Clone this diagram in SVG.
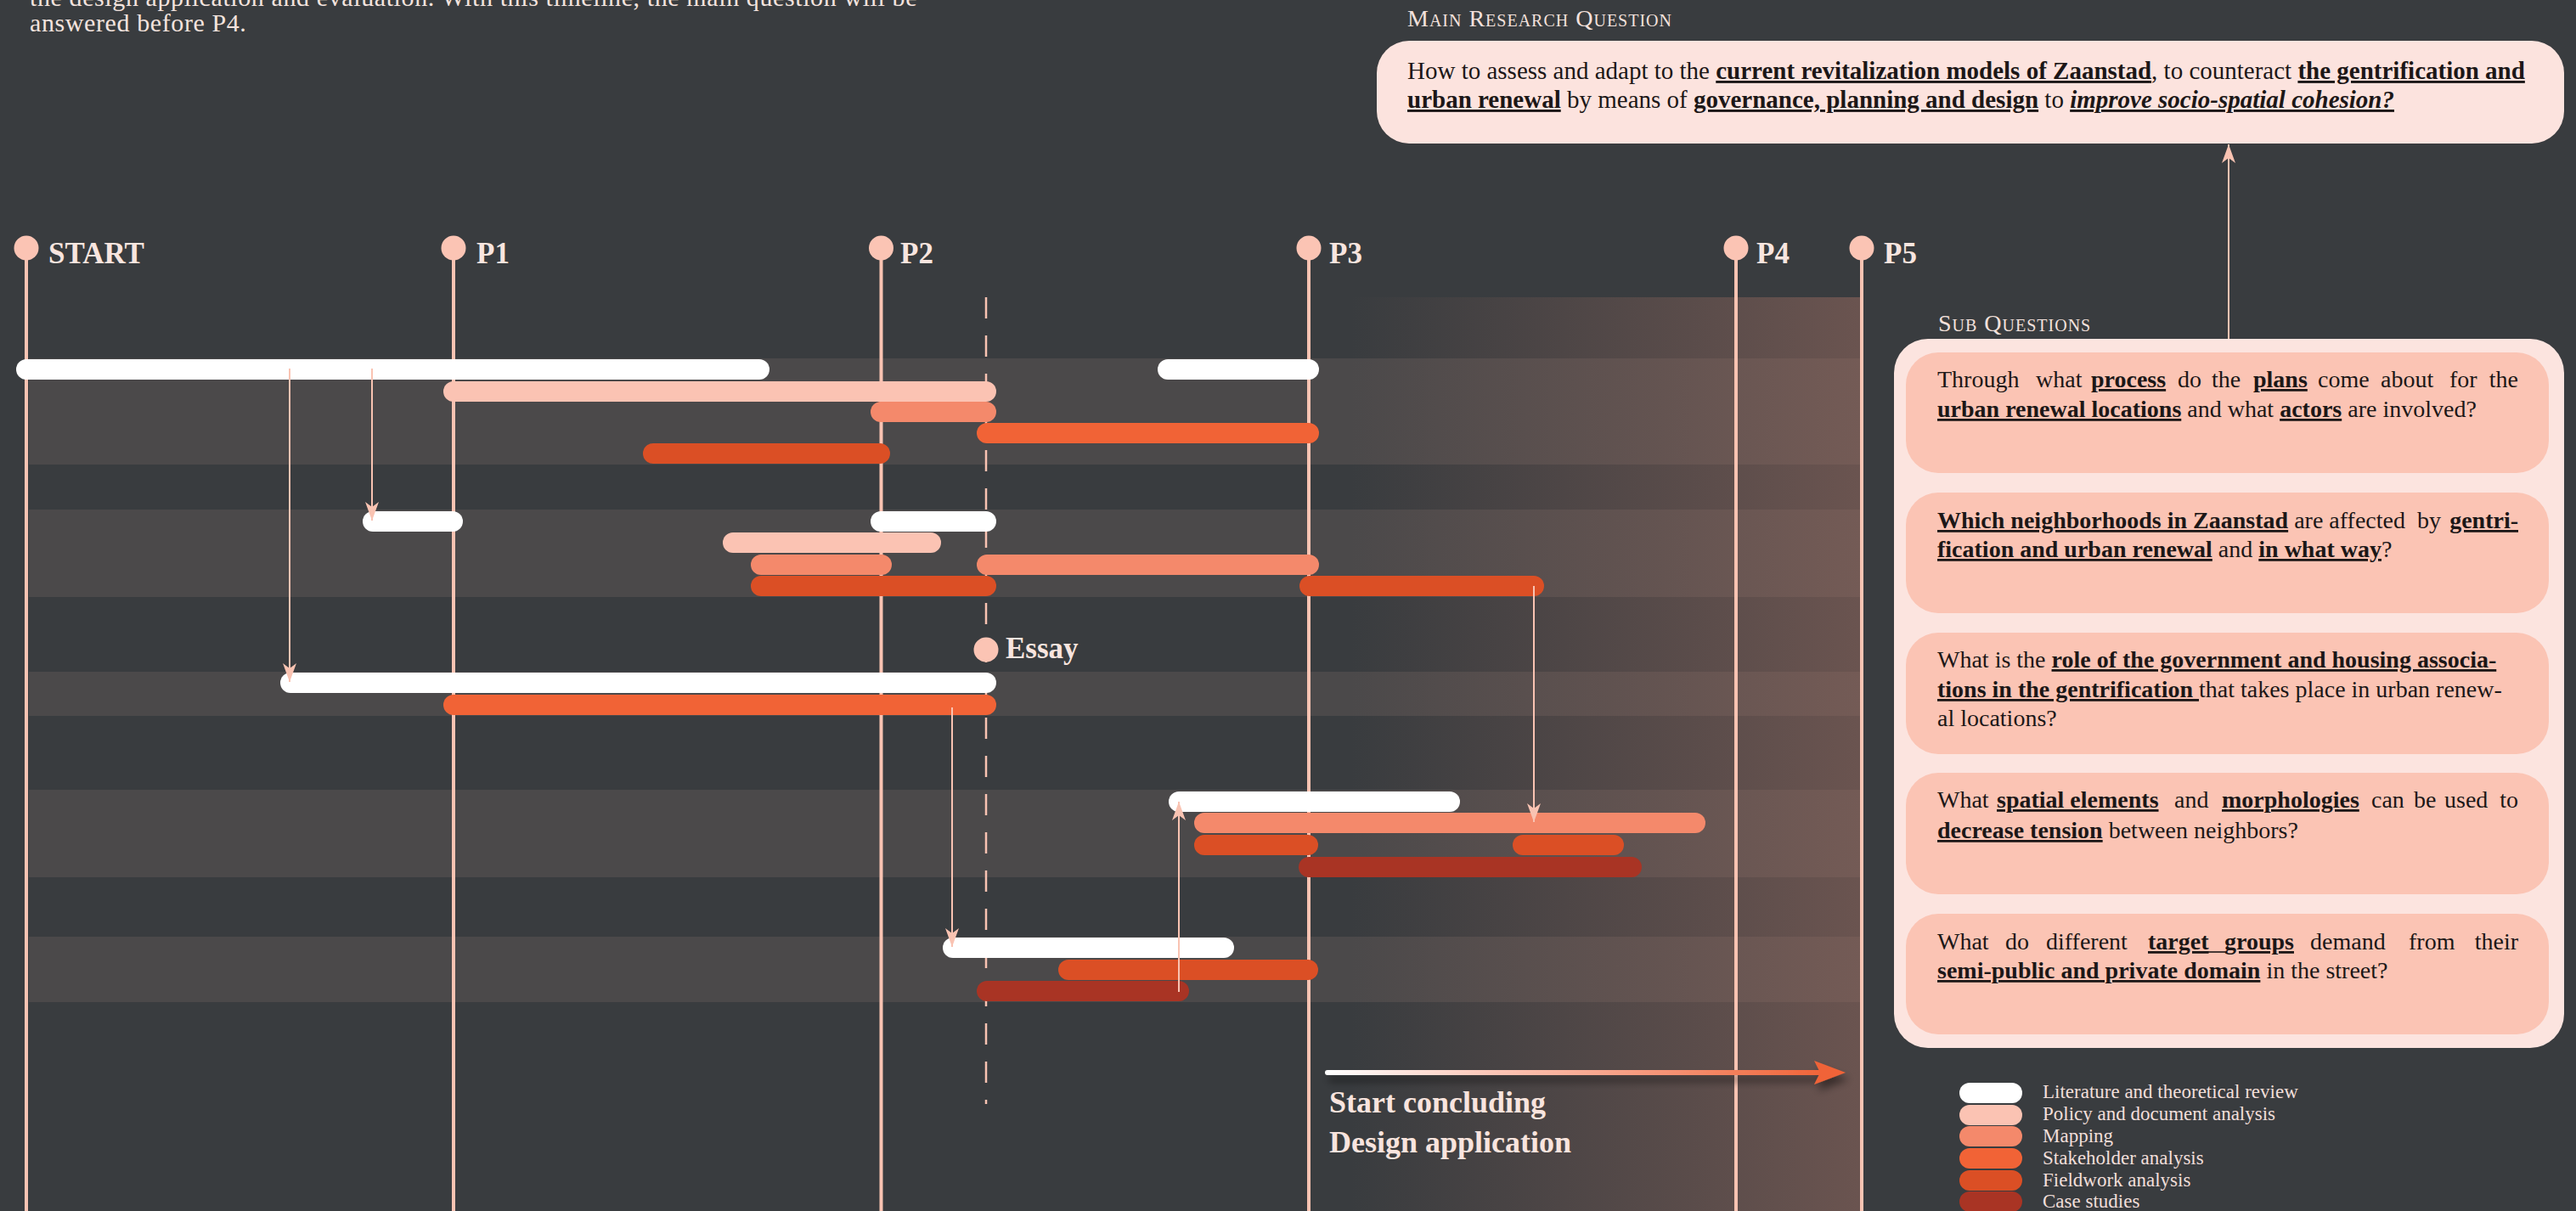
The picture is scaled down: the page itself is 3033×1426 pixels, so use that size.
<svg xmlns="http://www.w3.org/2000/svg" width="3033" height="1426" viewBox="0 0 3033 1426">
<style>
.t{font-family:"Liberation Serif","Times New Roman",serif}
.para{font-size:30px;fill:#f3e3de;letter-spacing:0.6px}
.band{fill:#4b494a}
.ms{stroke:#f9c3b2;stroke-width:4}
.dot{fill:#fbc4b4}
.lbl{font-size:35px;font-weight:bold;fill:#f8e5df}
.w{fill:#ffffff}.po{fill:#fbc3b3}.ma{fill:#f4896b}.st{fill:#f16336}.fw{fill:#db4f25}.cs{fill:#a93424}
.conn{stroke:#f9c3b2;stroke-width:2;fill:none;marker-end:url(#ah)}
.hd{font-size:28px;fill:#f3e1dc;font-variant:small-caps;letter-spacing:1px}
.q{font-size:28px;fill:#1c1717}
.mq{font-size:29px;fill:#1c1717}
.b{font-weight:bold;text-decoration:underline}
.i{font-style:italic}
.e{text-anchor:end}
.leg{font-size:23px;fill:#f1dfda}
.big{font-size:36px;font-weight:bold;fill:#f8e4de}
</style>
<defs>
<marker id="ah" markerUnits="userSpaceOnUse" markerWidth="24" markerHeight="18" refX="22" refY="8" orient="auto">
<path d="M0,0 L22,8 L0,16 L6,8 z" fill="#f9c3b2"/>
</marker>
<linearGradient id="fade" x1="0" y1="0" x2="1" y2="0">
<stop offset="0" stop-color="#a06e62" stop-opacity="0"/>
<stop offset="1" stop-color="#a06e62" stop-opacity="0.48"/>
</linearGradient>
<linearGradient id="concl" gradientUnits="userSpaceOnUse" x1="1563" y1="0" x2="2150" y2="0">
<stop offset="0" stop-color="#ffffff"/>
<stop offset="0.35" stop-color="#fbc3b3"/>
<stop offset="1" stop-color="#f06337"/>
</linearGradient>
<filter id="sh" filterUnits="userSpaceOnUse" x="1540" y="1230" width="680" height="80">
<feDropShadow dx="4" dy="8" stdDeviation="5" flood-color="#000" flood-opacity="0.45"/>
</filter>
</defs>

<rect width="3033" height="1426" fill="#393c3f"/>

<g id="intro" class="t para">
<text x="35" y="7">the design application and evaluation. With this timeline, the main question will be</text>
<text x="35" y="37">answered before P4.</text>
</g>

<g id="bands">
<rect class="band" x="34" y="422" width="2158" height="125"/>
<rect class="band" x="34" y="600" width="2158" height="103"/>
<rect class="band" x="34" y="791" width="2158" height="52"/>
<rect class="band" x="34" y="930" width="2158" height="103"/>
<rect class="band" x="34" y="1103" width="2158" height="77"/>
<rect x="1590" y="350" width="602" height="1076" fill="url(#fade)"/>
</g>

<g id="milestones">
<g id="ms-start"><line class="ms" x1="31" y1="292" x2="31" y2="1426"/><circle class="dot" cx="31" cy="292" r="14.5"/><text class="t lbl" x="57" y="310">START</text></g>
<g id="ms-p1"><line class="ms" x1="534" y1="292" x2="534" y2="1426"/><circle class="dot" cx="534" cy="292" r="14.5"/><text class="t lbl" x="561" y="310">P1</text></g>
<g id="ms-p2"><line class="ms" x1="1037.5" y1="292" x2="1037.5" y2="1426"/><circle class="dot" cx="1037.5" cy="292" r="14.5"/><text class="t lbl" x="1060" y="310">P2</text></g>
<g id="ms-p3"><line class="ms" x1="1541" y1="292" x2="1541" y2="1426"/><circle class="dot" cx="1541" cy="292" r="14.5"/><text class="t lbl" x="1565" y="310">P3</text></g>
<g id="ms-p4"><line class="ms" x1="2044" y1="292" x2="2044" y2="1426"/><circle class="dot" cx="2044" cy="292" r="14.5"/><text class="t lbl" x="2068" y="310">P4</text></g>
<g id="ms-p5"><line class="ms" x1="2192" y1="292" x2="2192" y2="1426"/><circle class="dot" cx="2192" cy="292" r="14.5"/><text class="t lbl" x="2218" y="310">P5</text></g>
<g id="ms-essay"><line x1="1161" y1="350" x2="1161" y2="1300" stroke="#f9c3b2" stroke-width="2.5" stroke-dasharray="25 20"/><circle class="dot" cx="1161" cy="765" r="14.5"/><text class="t lbl" x="1184" y="775">Essay</text></g>
</g>

<g id="bars">
<g id="sq1-bars">
<rect class="w" x="19" y="423" width="887" height="24" rx="12"/>
<rect class="w" x="1363" y="423" width="190" height="24" rx="12"/>
<rect class="po" x="522" y="449" width="651" height="24" rx="12"/>
<rect class="ma" x="1025" y="473" width="148" height="24" rx="12"/>
<rect class="st" x="1150" y="498" width="403" height="24" rx="12"/>
<rect class="fw" x="757" y="522" width="291" height="24" rx="12"/>
</g>
<g id="sq2-bars">
<rect class="w" x="427" y="602" width="118" height="24" rx="12"/>
<rect class="w" x="1025" y="602" width="148" height="24" rx="12"/>
<rect class="po" x="851" y="627" width="257" height="24" rx="12"/>
<rect class="ma" x="884" y="653" width="166" height="24" rx="12"/>
<rect class="ma" x="1150" y="653" width="403" height="24" rx="12"/>
<rect class="fw" x="884" y="678" width="289" height="24" rx="12"/>
<rect class="fw" x="1530" y="678" width="288" height="24" rx="12"/>
</g>
<g id="sq3-bars">
<rect class="w" x="330" y="792" width="843" height="24" rx="12"/>
<rect class="st" x="522" y="818" width="651" height="24" rx="12"/>
</g>
<g id="sq4-bars">
<rect class="w" x="1376" y="932" width="343" height="24" rx="12"/>
<rect class="ma" x="1406" y="957" width="602" height="24" rx="12"/>
<rect class="fw" x="1406" y="983" width="146" height="24" rx="12"/>
<rect class="fw" x="1781" y="983" width="131" height="24" rx="12"/>
<rect class="cs" x="1529" y="1009" width="404" height="24" rx="12"/>
</g>
<g id="sq5-bars">
<rect class="w" x="1110" y="1104" width="343" height="24" rx="12"/>
<rect class="fw" x="1246" y="1130" width="306" height="24" rx="12"/>
<rect class="cs" x="1150" y="1155" width="250" height="24" rx="12"/>
</g>
</g>

<g id="connectors">
<line class="conn" x1="341" y1="434" x2="341" y2="803"/>
<line class="conn" x1="438" y1="434" x2="438" y2="613"/>
<line class="conn" x1="1121" y1="833" x2="1121" y2="1115"/>
<line class="conn" x1="1806" y1="690" x2="1806" y2="968"/>
<line class="conn" x1="1388" y1="1168" x2="1388" y2="944"/>
<line class="conn" x1="2624" y1="399" x2="2624" y2="170"/>
</g>

<g id="concluding">
<g filter="url(#sh)">
<line x1="1563" y1="1263" x2="2145" y2="1263" stroke="url(#concl)" stroke-width="6" stroke-linecap="round"/>
<path d="M2136,1249 L2173,1263 L2136,1277 L2143,1263 z" fill="#f06337"/>
</g>
<text class="t big" x="1565" y="1310">Start concluding</text>
<text class="t big" x="1565" y="1357">Design application</text>
</g>

<g id="main-question">
<text class="t hd" x="1657" y="31">Main Research Question</text>
<rect x="1621" y="48" width="1398" height="121" rx="38" fill="#fce3de"/>
<text class="t mq" x="1657" y="93">How to assess and adapt to the <tspan class="b">current revitalization models of Zaanstad</tspan>, to counteract <tspan class="b">the gentrification and</tspan></text>
<text class="t mq" x="1657" y="127"><tspan class="b">urban renewal</tspan> by means of <tspan class="b">governance, planning and design</tspan> to <tspan class="b i">improve socio-spatial cohesion?</tspan></text>
</g>

<g id="sub-questions">
<text class="t hd" x="2282" y="390">Sub Questions</text>
<rect x="2230" y="399" width="789" height="835" rx="40" fill="#fce4df"/>
<g id="sq1">
<rect x="2244" y="415" width="757" height="142" rx="38" fill="#fbc4b4"/>
<text class="t q" y="456"><tspan x="2281">Through</tspan><tspan x="2397">what</tspan><tspan x="2462" class="b">process</tspan><tspan x="2564">do</tspan><tspan x="2604">the</tspan><tspan x="2653" class="b">plans</tspan><tspan x="2729">come</tspan><tspan x="2803">about</tspan><tspan x="2884">for</tspan></text>
<text class="t q e" x="2965" y="456">the</text>
<text class="t q" x="2281" y="491"><tspan class="b">urban renewal locations</tspan> and what <tspan class="b">actors</tspan> are involved?</text>
</g>
<g id="sq2">
<rect x="2244" y="580" width="757" height="142" rx="38" fill="#fbc4b4"/>
<text class="t q" x="2281" y="622"><tspan class="b">Which neighborhoods in Zaanstad</tspan> are affected<tspan x="2846">by</tspan></text>
<text class="t q e" x="2965" y="622"><tspan class="b">gentri-</tspan></text>
<text class="t q" x="2281" y="656"><tspan class="b">fication and urban renewal</tspan> and <tspan class="b">in what way</tspan>?</text>
</g>
<g id="sq3">
<rect x="2244" y="745" width="757" height="143" rx="38" fill="#fbc4b4"/>
<text class="t q" x="2281" y="786">What is the <tspan class="b">role of the government and housing associa-</tspan></text>
<text class="t q" x="2281" y="821"><tspan class="b">tions in the gentrification </tspan>that takes place in urban renew-</text>
<text class="t q" x="2281" y="855">al locations?</text>
</g>
<g id="sq4">
<rect x="2244" y="910" width="757" height="143" rx="38" fill="#fbc4b4"/>
<text class="t q" y="951"><tspan x="2281">What</tspan><tspan x="2351" class="b">spatial elements</tspan><tspan x="2560">and</tspan><tspan x="2616" class="b">morphologies</tspan><tspan x="2792">can</tspan><tspan x="2842">be</tspan><tspan x="2878">used</tspan></text>
<text class="t q e" x="2965" y="951">to</text>
<text class="t q" x="2281" y="987"><tspan class="b">decrease tension</tspan> between neighbors?</text>
</g>
<g id="sq5">
<rect x="2244" y="1076" width="757" height="142" rx="38" fill="#fbc4b4"/>
<text class="t q" y="1118"><tspan x="2281">What</tspan><tspan x="2361">do</tspan><tspan x="2409">different</tspan><tspan x="2529" class="b">target</tspan><tspan x="2619" class="b">groups</tspan><tspan x="2720">demand</tspan><tspan x="2836">from</tspan></text>
<text class="t q e" x="2965" y="1118">their</text>
<line x1="2600" y1="1121" x2="2620" y2="1121" stroke="#1c1717" stroke-width="1.6"/>
<text class="t q" x="2281" y="1152"><tspan class="b">semi-public and private domain</tspan> in the street?</text>
</g>
</g>

<g id="legend">
<rect class="w" x="2307" y="1275" width="74" height="24" rx="12"/>
<rect class="po" x="2307" y="1301" width="74" height="24" rx="12"/>
<rect class="ma" x="2307" y="1326" width="74" height="24" rx="12"/>
<rect class="st" x="2307" y="1352" width="74" height="24" rx="12"/>
<rect class="fw" x="2307" y="1378" width="74" height="24" rx="12"/>
<rect class="cs" x="2307" y="1403" width="74" height="24" rx="12"/>
<text class="t leg" x="2405" y="1293">Literature and theoretical review</text>
<text class="t leg" x="2405" y="1319">Policy and document analysis</text>
<text class="t leg" x="2405" y="1345">Mapping</text>
<text class="t leg" x="2405" y="1371">Stakeholder analysis</text>
<text class="t leg" x="2405" y="1397">Fieldwork analysis</text>
<text class="t leg" x="2405" y="1422">Case studies</text>
</g>
</svg>
